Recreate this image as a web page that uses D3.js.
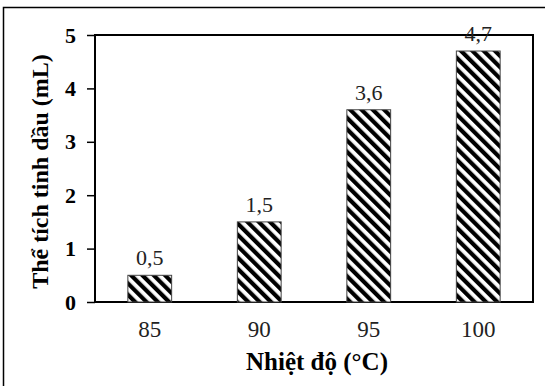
<!DOCTYPE html>
<html>
<head>
<meta charset="utf-8">
<script src="https://cdn.jsdelivr.net/npm/d3@7"></script>
<style>
  body { margin: 0; background: #fff; }
  text { font-family: "Liberation Serif", "Times New Roman", serif; }
</style>
</head>
<body>
<div id="chart"></div>
<script>
// data
const temps = ["85", "90", "95", "100"]
const volumes = [0.5, 1.5, 3.6, 4.7]
const valueLabels = ["0,5", "1,5", "3,6", "4,7"]
const yTicks = [0, 1, 2, 3, 4, 5]

const width = 545, height = 386
const margin = { top: 35, right: 12, bottom: 84, left: 95 }

const svg = d3.select("#chart")
    .append("svg")
    .attr("width", width)
    .attr("height", height)

// outer frame (only left and top edges show in the picture)
svg.append("rect")
    .attr("x", 3.5)
    .attr("y", 7.5)
    .attr("width", 700)
    .attr("height", 700)
    .attr("fill", "none")
    .attr("stroke", "#000")
    .attr("stroke-width", 1.5)

// hatch
const defs = svg.append("defs")
defs.append("pattern")
    .attr("id", "hatch")
    .attr("patternUnits", "userSpaceOnUse")
    .attr("width", 8)
    .attr("height", 8)
    .attr("patternTransform", "rotate(-45)")
    .append("rect")
    .attr("width", 4.2)
    .attr("height", 8)
    .attr("fill", "#000")

const xScale = d3.scaleBand()
    .domain(temps)
    .range([margin.left, width - margin.right])
    .paddingInner(0.6)
    .paddingOuter(0.3)

const yScale = d3.scaleLinear()
    .domain([0, 5])
    .range([height - margin.bottom, margin.top])

// plot box
svg.append("rect")
    .attr("x", margin.left)
    .attr("y", margin.top)
    .attr("width", width - margin.right - margin.left)
    .attr("height", height - margin.bottom - margin.top)
    .attr("fill", "none")
    .attr("stroke", "#000")
    .attr("stroke-width", 2)

// bars
svg.selectAll(".bar")
    .data(volumes)
    .enter()
    .append("rect")
    .attr("class", "bar")
    .attr("x", (d, i) => xScale(temps[i]))
    .attr("y", d => yScale(d))
    .attr("width", xScale.bandwidth())
    .attr("height", d => yScale(0) - yScale(d))
    .attr("fill", "#fff")

svg.selectAll(".bar-h")
    .data(volumes)
    .enter()
    .append("rect")
    .attr("class", "bar-h")
    .attr("x", (d, i) => xScale(temps[i]))
    .attr("y", d => yScale(d))
    .attr("width", xScale.bandwidth())
    .attr("height", d => yScale(0) - yScale(d))
    .attr("fill", "url(#hatch)")
    .attr("stroke", "#444")
    .attr("stroke-width", 1)

// value labels
svg.selectAll(".val")
    .data(volumes)
    .enter()
    .append("text")
    .attr("class", "val")
    .attr("x", (d, i) => xScale(temps[i]) + xScale.bandwidth() / 2)
    .attr("y", d => yScale(d) - 10)
    .attr("text-anchor", "middle")
    .attr("font-size", 22)
    .attr("fill", "#222")
    .text((d, i) => valueLabels[i])

// y axis
const yAxis = d3.axisLeft(yScale)
    .tickValues(yTicks)
    .tickSize(8)
    .tickPadding(11)
    .tickFormat(d3.format("d"))

const gy = svg.append("g")
    .attr("transform", `translate(${margin.left},0)`)
    .call(yAxis)
gy.select(".domain").remove()
gy.selectAll("line").attr("stroke", "#000").attr("stroke-width", 1.5)
gy.selectAll("text")
    .attr("font-size", 22)
    .attr("font-weight", "bold")
    .attr("fill", "#000")
    .attr("font-family", "Liberation Serif, serif")

// x axis
const xAxis = d3.axisBottom(xScale).tickSize(0).tickPadding(19)
const gx = svg.append("g")
    .attr("transform", `translate(0,${yScale(0)})`)
    .call(xAxis)
gx.select(".domain").remove()
gx.selectAll("text")
    .attr("font-size", 23)
    .attr("fill", "#222")
    .attr("font-family", "Liberation Serif, serif")

// axis titles
svg.append("text")
    .attr("x", (margin.left + width - margin.right) / 2 + 3)
    .attr("y", 370)
    .attr("text-anchor", "middle")
    .attr("font-size", 25)
    .attr("font-weight", "bold")
    .text("Nhiệt độ (°C)")

svg.append("text")
    .attr("transform", `translate(48,${(margin.top + height - margin.bottom) / 2 + 3}) rotate(-90)`)
    .attr("text-anchor", "middle")
    .attr("font-size", 24)
    .attr("font-weight", "bold")
    .text("Thể tích tinh dầu (mL)")
</script>
</body>
</html>
